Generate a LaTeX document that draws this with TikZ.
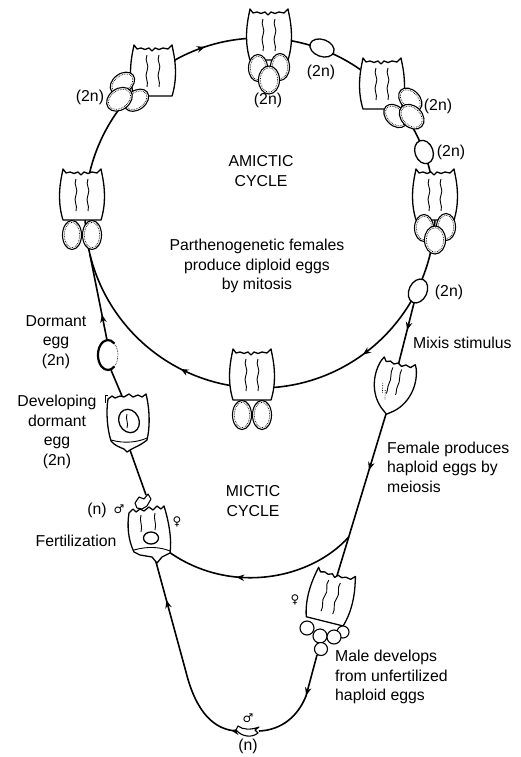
\documentclass[tikz,border=0pt]{standalone}
\usepackage{fontspec}
\setmainfont{Liberation Sans}
\newfontfamily\symfont{DejaVu Sans}
\usetikzlibrary{arrows.meta,decorations.markings}

% one egg with a stippled rim
\newcommand\rotegg[4]{%
  \draw[eggline] (#1,#2) ellipse [x radius=#3, y radius=#4];
  \draw[eggdots] (#1,#2) ellipse [x radius=#3-1.8, y radius=#4-1.8];}

\tikzset{
  >={Stealth[length=8pt,width=6.5pt]},
  flow/.style={line width=1.6pt},
  arrowat/.style={postaction={decorate},
    decoration={markings, mark=at position #1 with {\arrow{>}}}},
  outline/.style={draw, fill=white, line width=1.3pt, line join=round},
  inner/.style={line width=0.9pt},
  eggline/.style={draw, fill=white, line width=1.1pt},
  eggdots/.style={densely dotted, line width=0.7pt},
  lbl/.style={font=\fontsize{15.8}{19.5}\selectfont, inner sep=0pt, align=center},
  sym/.style={font=\symfont\fontsize{12}{12}\selectfont, inner sep=0pt},
  % rotifer body: crowned cup with two wavy inner lines
  rotbody/.pic={
    \path[outline] (-20,-24) -- (-19,-29) -- (-16,-25) -- (-12,-26) -- (-8,-24.5)
      -- (-4,-26) -- (-1,-23) -- (2,-26) -- (6,-24.5) -- (10,-26) -- (15,-25)
      -- (19,-29) -- (20,-24) .. controls (23,-10) and (24,6) .. (19,22)
      -- (-19,22) .. controls (-24,6) and (-23,-10) .. (-20,-24) -- cycle;
    \draw[inner] (-6,-19) .. controls (-9,-13) and (-3,-9) .. (-6,-3)
      .. controls (-9,3) and (-4,7) .. (-6,13);
    \draw[inner] (6,-19) .. controls (3,-13) and (9,-9) .. (6,-3)
      .. controls (3,3) and (8,7) .. (6,13);
  },
  rotpair/.pic={
    \pic{rotbody};
    \rotegg{-10}{37}{9.5}{14.5}
    \rotegg{10}{37}{9.5}{14.5}
  },
  rottrio/.pic={
    \pic{rotbody};
    \rotegg{-11}{30}{9.5}{13.5}
    \rotegg{11}{29}{9.5}{13.5}
    \rotegg{0}{42}{10.5}{14}
  },
  % mictic female: tapering cup without eggs
  femcup/.pic={
    \path[outline] (-18,-24) -- (-16,-28) -- (-13,-24) -- (-9,-25.5) -- (-5,-23.5)
      -- (-1,-25.5) -- (3,-23) -- (7,-25.5) -- (12,-24) -- (16,-28) -- (18,-24)
      .. controls (24,-6) and (18,14) .. (4,24) -- (0,27) -- (-4,24)
      .. controls (-18,14) and (-24,-6) .. (-18,-24) -- cycle;
    \draw[inner] (-5,-20) .. controls (-7,-14) and (-3,-9) .. (-5,-3)
      .. controls (-6,1) and (-4,4) .. (-5,7);
    \draw[inner] (4,-20) .. controls (2,-14) and (6,-9) .. (4,-3)
      .. controls (3,1) and (5,4) .. (4,6);
    \draw[eggdots] (-11,-2) -- (-9,8);
    \draw[eggdots] (-7,4) -- (-5,13);
  },
}

\begin{document}
\begin{tikzpicture}[x=1pt, y=-1pt]
\useasboundingbox (0,0) rectangle (520,757);

% ---- anchor points ----
\coordinate (rUL) at (153,74);
\coordinate (rTop) at (269,38);
\coordinate (rUR) at (382,87);
\coordinate (rR) at (435,198);
\coordinate (rL) at (82,198);
\coordinate (rB) at (252,378);
\coordinate (eA) at (322,48);
\coordinate (eB) at (424,152);
\coordinate (eC) at (418,291);
\coordinate (eCbot) at (414,303);
\coordinate (femTop) at (398,366);
\coordinate (fem) at (393,388);
\coordinate (femBot) at (386,414);
\coordinate (fe2) at (330,600);
\coordinate (fe2Top) at (336,579);
\coordinate (jct) at (348.7,537);
\coordinate (fe2Bot) at (317,655);
\coordinate (maleBL) at (237,731);
\coordinate (maleBR) at (259,731);
\coordinate (fertR) at (169,552);
\coordinate (fertB) at (156,562);
\coordinate (maleF) at (146,495);
\coordinate (devT) at (122,396);
\coordinate (devB) at (130,450);
\coordinate (dormT) at (107,340);
\coordinate (dormB) at (111,370);
\coordinate (split) at (90,255);

% ---- amictic cycle ----
\draw[flow, postaction={decorate}, decoration={markings,
    mark=at position 0.15 with {\arrow{>}},
    mark=at position 0.325 with {\arrow{>}},
    mark=at position 0.699 with {\arrow{>}}}]
  (435,213) arc[start angle=0, end angle=360, radius=175];

% ---- mictic route ----
\draw[flow, arrowat=0.43] (eCbot) -- (femTop);
\draw[flow, arrowat=0.34] (femBot) -- (fe2Top);
\draw[flow, arrowat=0.63] (jct) .. controls (310,580) and (230,595) .. (fertR);
\draw[flow, arrowat=0.4] (fe2Bot) -- (306,696) .. controls (298,716) and (282,730) .. (maleBR);
\draw[flow, postaction={decorate}, decoration={markings,
    mark=at position 0.03 with {\arrow{>}},
    mark=at position 0.8 with {\arrow{>}}}]
  (maleBL) .. controls (214,730) and (196,712) .. (186,672) -- (fertB);
\draw[flow] (maleF) -- (devB);
\draw[flow] (devT) -- (dormB);
\draw[flow, arrowat=0.3] (dormT) -- (split);

% ---- amictic females ----
\pic[rotate=-53] at (rUL) {rottrio};
\pic at (rTop) {rottrio};
\pic[rotate=45] at (rUR) {rottrio};
\pic at (rR) {rottrio};
\pic at (rL) {rotpair};
\pic at (rB) {rotpair};

% diploid eggs on the cycle
\draw[eggline, line width=1.3pt, rotate around={-20:(eA)}] (eA) ellipse [x radius=12.5, y radius=8.5];
\draw[eggline, line width=1.3pt, rotate around={20:(eB)}] (eB) ellipse [x radius=9, y radius=12];
\draw[eggline, line width=1.3pt, rotate around={-25:(eC)}] (eC) ellipse [x radius=9, y radius=12.5];

% ---- mictic female ----
\pic[rotate=-14] at (fem) {femcup};

% ---- female with haploid eggs ----
\pic[rotate=-14] at (fe2) {rotbody};
\draw[eggline] (307,628) circle [radius=7];
\draw[eggline] (343,632) circle [radius=6];
\draw[eggline] (320,636) circle [radius=7];
\draw[eggline] (334,637) circle [radius=7];
\draw[eggline] (321,649) circle [radius=6.5];

% ---- male (bottom) ----
\path[outline, line width=1.1pt] (236,730) .. controls (242,737) and (252,738) .. (258,733)
  -- (255,730) -- (259,727) .. controls (251,730) and (243,730) .. (238,726) -- cycle;

% ---- fertilization ----
\path[outline] (129,513) -- (133,509) -- (136,512) -- (140,509) -- (144,511) -- (149,507)
  -- (153,510) -- (157,506) -- (161,509) -- (164,506) .. controls (169,522) and (172,540) .. (170,553)
  -- (162,557) -- (157,563) -- (152,557) -- (140,555) -- (134,552)
  .. controls (128,540) and (127,525) .. (129,513) -- cycle;
\draw[inner] (134,550) .. controls (148,546) and (160,547) .. (170,551);
\draw[inner] (141,515) .. controls (139,521) and (143,525) .. (141,532);
\draw[inner] (155,513) .. controls (153,519) and (157,523) .. (155,530);
\draw[fill=white, line width=1.3pt] (151,538) ellipse [x radius=7.5, y radius=6];
% male attached at the crown
\path[outline, line width=1.1pt] (135,503) -- (139,497) -- (144,499) -- (148,494) -- (151,499)
  -- (147,506) -- (142,509) -- (137,508) -- cycle;

% ---- developing dormant egg ----
\path[outline] (108,399) -- (112,396) -- (115,398) -- (120,396) -- (124,397) -- (129,394)
  -- (133,397) -- (138,395) -- (142,397) -- (146,394) .. controls (150,410) and (150,428) .. (147,440)
  .. controls (140,446) and (132,448) .. (127,452) -- (124,449)
  .. controls (119,447) and (114,445) .. (111,441) .. controls (107,428) and (106,412) .. (108,399) -- cycle;
\draw[inner] (111,440) .. controls (125,444) and (138,442) .. (147,438);
\draw[fill=white, line width=1.3pt, rotate around={25:(129,421)}] (129,421) ellipse [x radius=10, y radius=12];
\draw[inner] (127,414) .. controls (125,419) and (129,423) .. (127,428);
\draw[inner] (108,395) -- (105,395) -- (105,403);

% ---- dormant egg: open shell ----
\fill[white] (108,355) ellipse [x radius=10, y radius=15];
\draw[line width=2.2pt] (114.4,343.5) arc[start angle=-50, end angle=-310, x radius=10, y radius=15];
\draw[eggdots] (114.4,343.5) arc[start angle=-50, end angle=50, x radius=10, y radius=15];

% ---- labels ----
\node[lbl] (amictic) at (261,171) {AMICTIC\\CYCLE};
\node[lbl] (partheno) at (257,266) {Parthenogenetic females\\produce diploid eggs\\by mitosis};
\node[lbl] (mictic) at (253,501) {MICTIC\\CYCLE};
\node[lbl] (dormlbl) at (56,342) {Dormant\\egg\\(2n)};
\node[lbl] (devlbl) at (57,432) {Developing\\dormant\\egg\\(2n)};
\node[lbl] (fertlbl) at (76,541) {Fertilization};
\node[lbl, anchor=west] (mixlbl) at (413,343) {Mixis stimulus};
\node[lbl, anchor=west, align=left] (femlbl) at (387,467) {Female produces\\haploid eggs by\\meiosis};
\node[lbl, anchor=west, align=left] (malelbl) at (335,677) {Male develops\\from unfertilized\\haploid eggs};
\node[lbl] (nUL) at (90,97) {(2n)};
\node[lbl] (nTop) at (268,100) {(2n)};
\node[lbl] (nA) at (321,72) {(2n)};
\node[lbl] (nUR) at (438,106) {(2n)};
\node[lbl] (nB) at (451,152) {(2n)};
\node[lbl] (nC) at (449,292) {(2n)};
\node[lbl] (nMale) at (97,510) {(n)};
\node[sym] (mF) at (119,509) {♂};
\node[sym] (fF) at (177,522) {♀};
\node[sym] (fE) at (295,600) {♀};
\node[sym] (mB) at (248,718) {♂};
\node[lbl] (nB2) at (248,746) {(n)};
\end{tikzpicture}
\end{document}
